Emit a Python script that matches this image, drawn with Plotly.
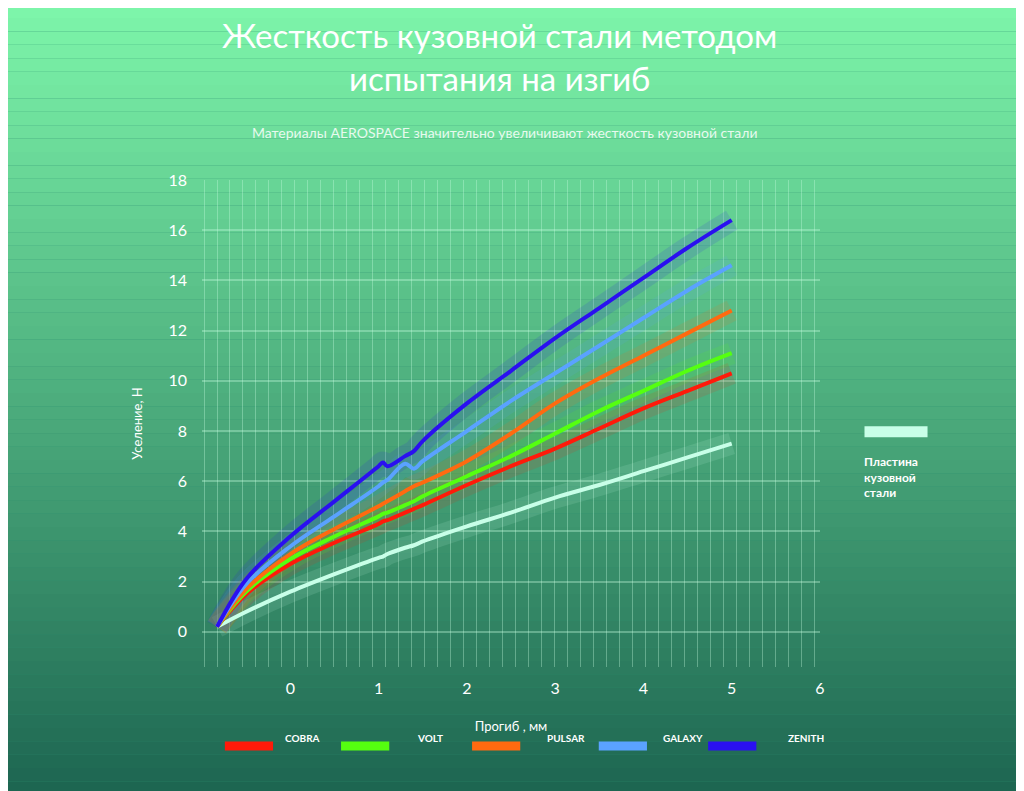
import plotly.graph_objects as go

# deflection, mm
x_pts = [-0.83, -0.5, 0, 0.5, 1, 1.05, 1.1, 1.3, 1.4, 1.5, 2, 2.5, 3, 3.5, 4, 4.5, 5]

plate = [0.2, 0.8, 1.6, 2.3, 2.95, 3.0, 3.1, 3.35, 3.45, 3.6, 4.2, 4.75, 5.35, 5.85, 6.4, 6.95, 7.5]
cobra = [0.2, 1.5, 2.7, 3.55, 4.3, 4.4, 4.45, 4.75, 4.9, 5.05, 5.85, 6.6, 7.3, 8.1, 8.9, 9.6, 10.3]
volt = [0.2, 1.6, 2.9, 3.8, 4.6, 4.7, 4.75, 5.05, 5.2, 5.4, 6.2, 7.0, 7.9, 8.8, 9.6, 10.4, 11.1]
pulsar = [0.2, 1.7, 3.1, 4.1, 5.0, 5.1, 5.2, 5.6, 5.8, 5.95, 6.8, 7.9, 9.1, 10.1, 11.0, 11.9, 12.8]
galaxy = [0.2, 1.9, 3.4, 4.6, 5.8, 5.95, 6.05, 6.7, 6.5, 6.8, 8.0, 9.2, 10.3, 11.4, 12.5, 13.6, 14.6]
zenith = [0.2, 2.1, 3.8, 5.2, 6.6, 6.75, 6.6, 7.0, 7.2, 7.6, 9.1, 10.4, 11.7, 12.9, 14.1, 15.3, 16.4]

series_names = ["COBRA", "VOLT", "PULSAR", "GALAXY", "ZENITH"]
series_vals = [cobra, volt, pulsar, galaxy, zenith]
series_colors = ["#ff1a0a", "#55ff10", "#ff6a10", "#5aa2ff", "#2a10f0"]
plate_name = "Пластина<br>кузовной<br>стали"
plate_color = "#c8ffe8"

fig = go.Figure()

# background gradient, light at top to dark at bottom
shapes = []
n_bands = 60
top = (125, 245, 170)
bot = (28, 100, 80)
for i in range(n_bands):
    t = i / (n_bands - 1)
    c = tuple(int(top[k] + (bot[k] - top[k]) * t) for k in range(3))
    shapes.append(dict(type="rect", xref="paper", yref="paper", layer="below",
                       x0=-0.5, x1=1.5, y0=0.36 - (i + 1) * 1.65 / n_bands + 1.0,
                       y1=0.36 - i * 1.65 / n_bands + 1.0,
                       fillcolor="rgb(%d,%d,%d)" % c, line_width=0))

all_vals = [plate] + series_vals
all_colors = [plate_color] + series_colors
for vals, col in zip(all_vals, all_colors):
    # soft glow behind each line
    fig.add_trace(go.Scatter(x=x_pts, y=vals, mode="lines", showlegend=False, hoverinfo="skip",
                             line=dict(color=col, width=22, shape="spline"), opacity=0.12))
for vals, col in zip(all_vals, all_colors):
    fig.add_trace(go.Scatter(x=x_pts, y=vals, mode="lines", showlegend=False,
                             line=dict(color=col, width=4, shape="spline")))

annotations = [
    dict(text="-1", x=-1.62, y=-1.12, xref="x", yref="y", showarrow=False,
         font=dict(size=16, color="white")),
    dict(text="-2", x=-0.66, y=-2.24, xref="x", yref="y", showarrow=False,
         font=dict(size=16, color="white")),
]

# manual legend along the bottom
leg_x = [0.037, 0.225, 0.437, 0.642, 0.819]
lab_x = [0.131, 0.345, 0.555, 0.743, 0.945]
for name, col, lx, tx in zip(series_names, series_colors, leg_x, lab_x):
    shapes.append(dict(type="line", xref="paper", yref="paper", x0=lx, x1=lx + 0.078,
                       y0=-0.162, y1=-0.162, line=dict(color=col, width=9)))
    annotations.append(dict(text="<b>" + name + "</b>", xref="paper", yref="paper",
                            x=tx, y=-0.162, xanchor="left", showarrow=False,
                            font=dict(size=10, color="white")))
shapes.append(dict(type="line", xref="paper", yref="paper", x0=1.072, x1=1.174,
                   y0=0.483, y1=0.483, line=dict(color=plate_color, width=11)))
annotations.append(dict(text="<b>" + plate_name + "</b>", xref="paper", yref="paper",
                        x=1.068, y=0.441, xanchor="left", yanchor="top", align="left",
                        showarrow=False, font=dict(size=12, color="white")))

annotations.append(dict(text="Жесткость кузовной стали методом<br>испытания на изгиб",
                        xref="paper", yref="paper", x=0.482, y=1.164, yanchor="bottom",
                        showarrow=False, font=dict(size=33, color="white", family="Lato")))
annotations.append(dict(text="Материалы AEROSPACE значительно увеличивают жесткость кузовной стали",
                        xref="paper", yref="paper", x=0.49, y=1.119, showarrow=False,
                        font=dict(size=14, color="rgba(255,255,255,0.85)", family="Lato")))

grid_col = "rgba(200,255,225,0.35)"
fig.update_layout(
    width=1024, height=791,
    margin=dict(l=194, r=212, t=172, b=132),
    paper_bgcolor="#2f8f70", plot_bgcolor="rgba(0,0,0,0)",
    font=dict(family="Lato", color="white"),
    shapes=shapes, annotations=annotations,
    xaxis=dict(range=[-1, 6], tickvals=[0, 1, 2, 3, 4, 5, 6], showgrid=False, zeroline=False,
               ticks="", tickfont=dict(size=16, color="white"), ticklabelstandoff=10,
               minor=dict(dtick=1 / 6.8, tick0=-0.83, showgrid=True, gridcolor=grid_col, gridwidth=1),
               title=dict(text="Прогиб , мм", font=dict(size=13), standoff=25)),
    yaxis=dict(range=[-1.4, 18], tickvals=list(range(0, 19, 2)), showgrid=True, gridcolor=grid_col,
               gridwidth=2, zeroline=False, tickfont=dict(size=16, color="white"),
               ticklabelstandoff=14,
               title=dict(text="Уселение, Н", font=dict(size=13), standoff=22)),
)

fig.write_html("out.html")
